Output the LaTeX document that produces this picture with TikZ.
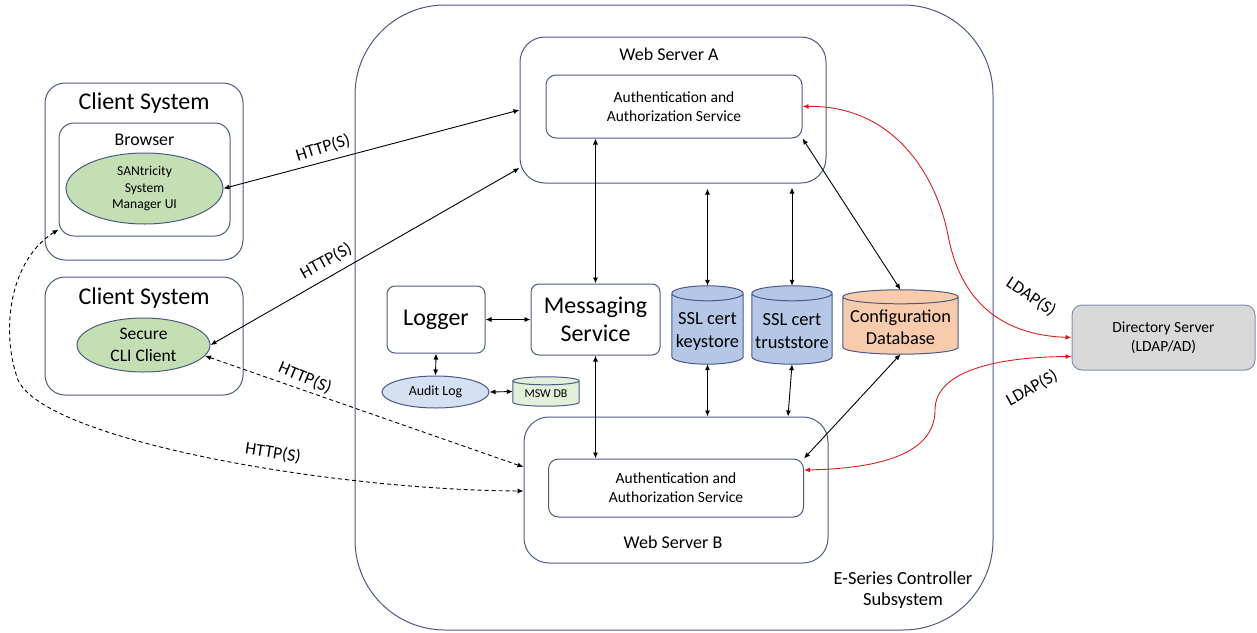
\documentclass[tikz,border=0pt]{standalone}
\usepackage{fontspec}
\setmainfont{Carlito}
\usetikzlibrary{arrows.meta,shapes.geometric,calc}
\definecolor{bordc}{HTML}{4A5A85}
\definecolor{greenf}{HTML}{C5DFB4}
\definecolor{lgreen}{HTML}{E2F0D9}
\definecolor{bluef}{HTML}{B4C7E7}
\definecolor{lblue}{HTML}{D5E0F2}
\definecolor{orangef}{HTML}{F8CBAD}
\definecolor{grayf}{HTML}{D9D9D9}
\definecolor{dsbord}{HTML}{7F8FB0}
\definecolor{redc}{HTML}{D42020}
\newcommand\cylshape[3]{%
  \path[draw=bordc, line width=1pt, fill=#3] let \p1=(#1.north west), \p2=(#1.south east), \n1={(\x2-\x1)/2} in
    (\x1,\y1-#2pt) -- (\x1,\y2+#2pt) arc[start angle=180, end angle=360, x radius=\n1, y radius=#2pt]
    -- (\x2,\y1-#2pt) arc[start angle=0, end angle=180, x radius=\n1, y radius=#2pt] -- cycle
    (\x1,\y1-#2pt) arc[start angle=180, end angle=360, x radius=\n1, y radius=#2pt];
}
\begin{document}
\begin{tikzpicture}[x=1pt,y=-1pt,
  box/.style={draw=bordc, line width=1pt, rectangle, inner sep=0pt, align=center},
  ell/.style={draw=bordc, line width=1pt, ellipse, inner sep=0pt, align=center},
  plain/.style={inner sep=0pt, align=center},
  conn/.style={line width=0.9pt, {Latex[length=6pt,width=5pt]}-{Latex[length=6pt,width=5pt]}},
  dconn/.style={conn, dash pattern=on 4pt off 3pt},
  rconn/.style={line width=0.9pt, draw=redc, {Latex[length=6pt,width=5pt]}-{Latex[length=6pt,width=5pt]}, color=redc},
  lbl/.style={inner sep=0pt, font=\fontsize{17.5}{20}\selectfont},
]
\useasboundingbox (0,0) rectangle (1257,632);

% E-Series controller
\node[box, rounded corners=90pt, minimum width=638pt, minimum height=625pt] (ctrl) at (674,317.5) {};
\node[plain, font=\fontsize{18.5}{21}\selectfont] (ctrlt) at (903,590) {E-Series Controller\\Subsystem};

% Client system 1
\node[box, rounded corners=20pt, minimum width=198pt, minimum height=177pt] (cs1) at (144,171.5) {};
\node[plain, font=\fontsize{24}{28}\selectfont] (cs1t) at (144,103) {Client System};
\node[box, rounded corners=15pt, minimum width=171pt, minimum height=113pt] (br) at (144.5,179.5) {};
\node[plain, font=\fontsize{17.8}{21}\selectfont] (brt) at (144.5,140) {Browser};
\node[ell, fill=greenf, minimum width=157pt, minimum height=71pt, font=\fontsize{13.6}{16.8}\selectfont] (sm) at (144.5,188.5) {SANtricity\\System\\Manager UI};

% Client system 2
\node[box, rounded corners=20pt, minimum width=198pt, minimum height=118pt] (cs2) at (144,336) {};
\node[plain, font=\fontsize{24}{28}\selectfont] (cs2t) at (144,298) {Client System};
\node[ell, fill=greenf, minimum width=133pt, minimum height=54pt, font=\fontsize{17.5}{21.5}\selectfont] (cli) at (143.5,345) {Secure\\CLI Client};

% Web server A
\node[box, rounded corners=25pt, minimum width=306pt, minimum height=146pt] (wsA) at (673,110) {};
\node[plain, font=\fontsize{18}{21}\selectfont] (wsAt) at (669,54) {Web Server A};
\node[box, fill=white, rounded corners=10pt, minimum width=256pt, minimum height=63pt, font=\fontsize{15.5}{19}\selectfont] (authA) at (674,106.5) {Authentication and\\Authorization Service};

% Web server B
\node[box, rounded corners=25pt, minimum width=304pt, minimum height=146pt] (wsB) at (676,490) {};
\node[plain, font=\fontsize{18}{21}\selectfont] (wsBt) at (673,542) {Web Server B};
\node[box, fill=white, rounded corners=10pt, minimum width=255pt, minimum height=58pt, font=\fontsize{15.5}{19}\selectfont] (authB) at (676,488) {Authentication and\\Authorization Service};

% Logger and messaging
\node[box, rounded corners=8pt, minimum width=98pt, minimum height=67pt, font=\fontsize{24}{28}\selectfont] (lg) at (436,319.5) {Logger};
\node[box, rounded corners=8pt, minimum width=129pt, minimum height=71pt, font=\fontsize{24}{28}\selectfont] (ms) at (595.5,319.5) {Messaging\\Service};
\node[ell, fill=lblue, minimum width=107pt, minimum height=32pt, font=\fontsize{13.9}{16}\selectfont] (al) at (435.5,392) {Audit Log};

% cylinders
\node[plain, minimum width=71pt, minimum height=78pt] (ks) at (707.5,325) {};
\cylshape{ks}{7.5}{bluef}
\node[plain, font=\fontsize{18.5}{23}\selectfont] (kst) at (707.5,331.5) {SSL cert\\keystore};
\node[plain, minimum width=80pt, minimum height=78pt] (ts) at (792,325) {};
\cylshape{ts}{7.5}{bluef}
\node[plain, font=\fontsize{18.5}{23}\selectfont] (tst) at (792,331.5) {SSL cert\\truststore};
\node[plain, minimum width=115pt, minimum height=64pt] (cfg) at (900.5,322) {};
\cylshape{cfg}{7}{orangef}
\node[plain, font=\fontsize{18.3}{22}\selectfont] (cfgt) at (900.5,327) {Configuration\\Database};
\node[plain, minimum width=66pt, minimum height=29pt] (msw) at (546,391.5) {};
\cylshape{msw}{4}{lgreen}
\node[plain, font=\fontsize{12}{14}\selectfont] (mswt) at (546,394) {MSW DB};

% Directory server
\node[draw=dsbord, line width=1pt, fill=grayf, rounded corners=10pt, inner sep=0pt, align=center, minimum width=183pt, minimum height=65pt, font=\fontsize{15.5}{19}\selectfont] (ds) at (1163.5,337.5) {Directory Server\\(LDAP/AD)};

% HTTP(S) connectors
\draw[conn] (sm.east) -- (wsA.west);
\node[lbl, rotate=17] (h1) at (323,148) {HTTP(S)};
\draw[conn] (cli.east) -- ([yshift=-58pt]wsA.west);
\node[lbl, rotate=29] (h2) at (326,261) {HTTP(S)};
\draw[dconn] (cli.-10) -- ([yshift=23pt]wsB.west);
\node[lbl, rotate=-23] (h3) at (305,378) {HTTP(S)};
\draw[dconn] ([shift={(0,-7)}]br.south west) .. controls (10,260) and (0,330) .. (18,380) .. controls (45,440) and (330,490) .. ([yshift=-1pt]wsB.west);
\node[lbl, rotate=-9] (h4) at (273,453) {HTTP(S)};

% internal connectors
\draw[conn] (ms.north |- authA.south) -- (ms.north);
\draw[conn, shorten <=5pt] (ks.north |- wsA.south) -- (ks.north);
\draw[conn, shorten <=4pt] (ts.north |- wsA.south) -- (ts.north);
\draw[conn] (authA.south east) -- (cfg.north);
\draw[conn] (lg.east) -- (ms.west);
\draw[conn] (lg.south) -- (al.north);
\draw[conn] (al.east) -- (msw.west);
\draw[conn] (ms.south) -- (ms.south |- authB.north);
\draw[conn] (ks.south) -- (ks.south |- wsB.north);
\draw[conn] (ts.south) -- ([xshift=-4pt]ts.south |- wsB.north);
\draw[conn] (cfg.south) -- (authB.north east);

% LDAP connectors
\draw[rconn] (authA.east) .. controls (890,105) and (935,170) .. (948,235) .. controls (960,300) and (1000,335) .. (ds.west);
\node[lbl, rotate=-34] (l1) at (1031,297) {LDAP(S)};
\draw[rconn] ([yshift=18pt]authB.east) .. controls (900,468) and (935,445) .. (935,410) .. controls (935,370) and (1000,357) .. ([yshift=-19pt]ds.west);
\node[lbl, rotate=29] (l2) at (1032,388) {LDAP(S)};
\end{tikzpicture}
\end{document}
